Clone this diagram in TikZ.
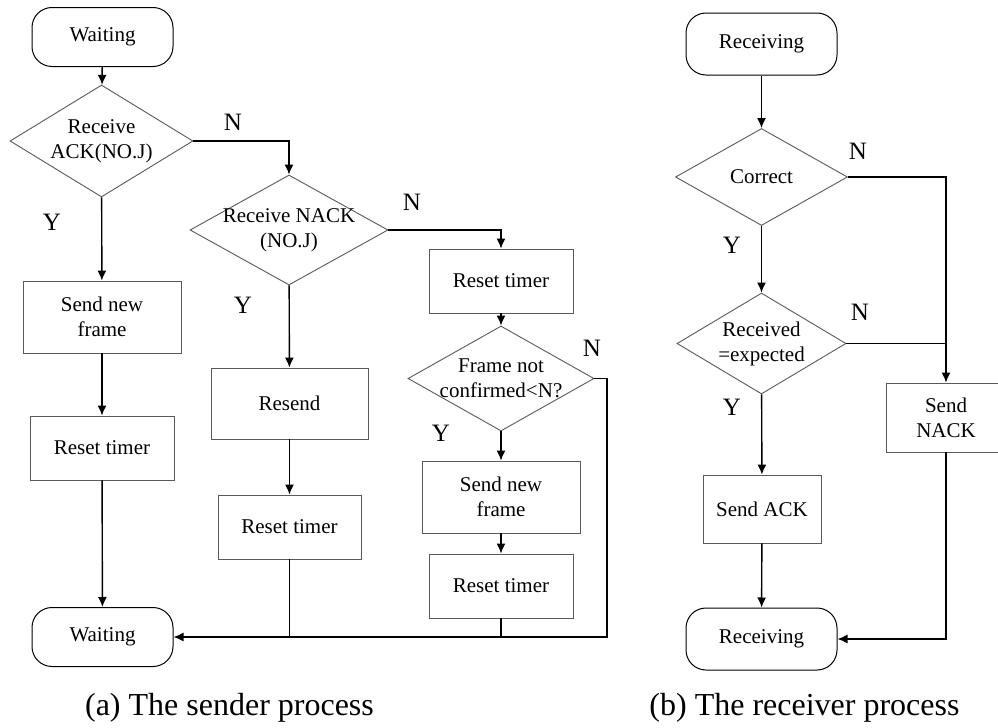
\documentclass[tikz,border=0pt]{standalone}
\usepackage{fontspec}
\setmainfont{Liberation Serif}
\usetikzlibrary{shapes.geometric,arrows.meta}

\begin{document}
\begin{tikzpicture}[x=0.5pt, y=-0.5pt,
    txt/.style={font=\fontsize{10.5}{12.5}\selectfont, align=center},
    term/.style={txt, draw=black, line width=0.5pt, rounded corners=10pt,
        minimum width=70.5pt, minimum height=29.5pt},
    proc/.style={txt, draw=black!65, line width=0.45pt, inner sep=0pt},
    decide/.style={txt, diamond, draw=black!65, line width=0.45pt,
        inner sep=-3pt, aspect=1.8},
    yn/.style={font=\fontsize{12.5}{14}\selectfont},
    flow/.style={line width=0.7pt, -{Latex[length=5pt,width=4.5pt]}},
    link/.style={line width=0.7pt}]
\useasboundingbox (0,0) rectangle (998,728);

% sender
\node[term] (wait1) at (102.5,37) {Waiting};
\node[decide, minimum width=91.5pt, minimum height=56pt] (ack) at (101.5,141) {Receive\\ACK(NO.J)};
\node[proc, minimum width=79pt, minimum height=36pt] (sendnew1) at (102,317) {Send new\\frame};
\node[proc, minimum width=72pt, minimum height=32pt] (reset1) at (102,448) {Reset timer};
\node[term] (wait2) at (102.5,637) {Waiting};
\node[decide, minimum width=99pt, minimum height=55pt] (nack) at (289,230) {Receive NACK\\(NO.J)};
\node[proc, minimum width=78.5pt, minimum height=35.5pt] (resend) at (289.5,403.5) {Resend};
\node[proc, minimum width=71.5pt, minimum height=32pt] (reset2) at (289.5,527) {Reset timer};
\node[proc, minimum width=72pt, minimum height=32pt] (reset3) at (501,281) {Reset timer};
\node[decide, minimum width=93pt, minimum height=52.5pt] (notconf) at (501,378.5) {Frame not\\confirmed<N?};
\node[proc, minimum width=79pt, minimum height=36pt] (sendnew2) at (501,497) {Send new\\frame};
\node[proc, minimum width=72pt, minimum height=32pt] (reset4) at (501,586) {Reset timer};
\coordinate (corner) at (607,637);

\draw[flow] (wait1) -- (ack);
\draw[flow] (ack) -- (sendnew1);
\draw[flow] (sendnew1) -- (reset1);
\draw[flow] (reset1) -- (wait2);
\draw[flow] (ack.east) -| (nack.north);
\draw[flow] (nack) -- (resend);
\draw[flow] (resend) -- (reset2);
\draw[flow] (nack.east) -| (reset3.north);
\draw[flow] (reset3) -- (notconf);
\draw[flow] (notconf) -- (sendnew2);
\draw[flow] (sendnew2) -- (reset4);
\draw[flow] (notconf.east) -| (corner) -- (wait2.east);
\draw[link] (reset2.south) -- (reset2.south |- corner);
\draw[link] (reset4.south) -- (reset4.south |- corner);

\node[yn] at (233,122) {N};
\node[yn] at (52,222) {Y};
\node[yn] at (412,202) {N};
\node[yn] at (243,305) {Y};
\node[yn] at (592,348) {N};
\node[yn] at (441,433) {Y};

% receiver
\node[term, minimum width=75.5pt, minimum height=31pt] (recv1) at (761.5,44) {Receiving};
\node[decide, minimum width=86pt, minimum height=48.5pt] (correct) at (761.5,177) {Correct};
\node[decide, minimum width=84.5pt, minimum height=50.5pt] (receq) at (761.5,343.5) {Received\\=expected};
\node[proc, minimum width=59pt, minimum height=34pt] (sendack) at (762,509) {Send ACK};
\node[term, minimum width=75.5pt, minimum height=31pt] (recv2) at (761.5,639) {Receiving};
\node[proc, minimum width=60pt, minimum height=34.5pt] (sendnack) at (946,417.5) {Send\\NACK};

\draw[flow] (recv1) -- (correct);
\draw[flow] (correct) -- (receq);
\draw[flow] (receq) -- (sendack);
\draw[flow] (sendack) -- (recv2);
\draw[flow] (correct.east) -| (sendnack.north);
\draw[link] (receq.east) -- (receq.east -| sendnack);
\draw[flow] (sendnack.south) |- (recv2.east);

\node[yn] at (858,151) {N};
\node[yn] at (732,245) {Y};
\node[yn] at (860,312) {N};
\node[yn] at (732,407) {Y};

% captions
\node[font=\fontsize{16}{18}\selectfont] (capa) at (229.5,708) {(a) The sender process};
\node[font=\fontsize{16}{18}\selectfont] (capb) at (804.5,708) {(b) The receiver process};
\end{tikzpicture}
\end{document}
